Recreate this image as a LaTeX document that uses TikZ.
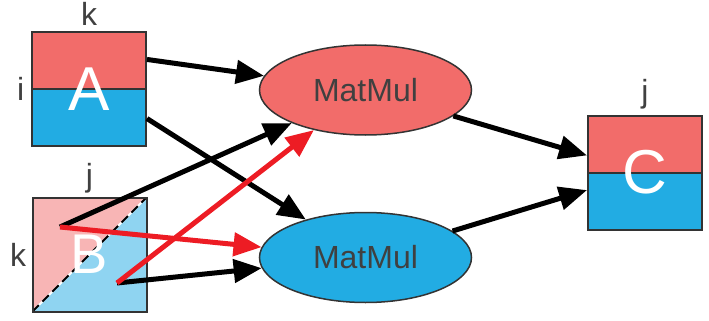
\documentclass[tikz,border=0pt]{standalone}
\usepackage{fontspec}
\setmainfont{Liberation Sans}
\usepackage{xcolor}
\usepackage{tikz}
\usetikzlibrary{arrows.meta,shapes.geometric}
\usetikzlibrary{calc}
\usetikzlibrary{positioning}

\definecolor{matred}{HTML}{F26C6A}
\definecolor{matblue}{HTML}{22ACE3}
\definecolor{palered}{HTML}{F8B5B5}
\definecolor{paleblue}{HTML}{8FD4F1}
\definecolor{arrowred}{HTML}{ED1C24}
\definecolor{edgegray}{HTML}{333333}
\definecolor{textgray}{HTML}{404040}

\begin{document}
\begin{tikzpicture}[x=1pt,y=-1pt,>={Triangle[length=28pt,width=23pt]},semithick]
	\tikzstyle{every node}=[inner sep=0pt]
	\tikzstyle{matbox}=[rectangle, draw=edgegray, line width=2pt, minimum width=114pt, minimum height=114pt, text=white, font=\fontsize{62}{70}\selectfont]
	\tikzstyle{halfsplit}=[path picture={
			\fill[matred] (path picture bounding box.north west) rectangle (path picture bounding box.east);
			\fill[matblue] (path picture bounding box.west) rectangle (path picture bounding box.south east);
			\draw[edgegray, line width=2pt] (path picture bounding box.west) -- (path picture bounding box.east);}]
	\tikzstyle{diagsplit}=[path picture={
			\fill[palered] (path picture bounding box.north west) -- (path picture bounding box.north east) -- (path picture bounding box.south west) -- cycle;
			\fill[paleblue] (path picture bounding box.north east) -- (path picture bounding box.south east) -- (path picture bounding box.south west) -- cycle;
			\draw[white, line width=2pt] (path picture bounding box.south west) -- (path picture bounding box.north east);
			\draw[black, line width=2pt, dash pattern=on 9pt off 5pt] (path picture bounding box.south west) -- (path picture bounding box.north east);}]
	\tikzstyle{opnode}=[ellipse, draw=edgegray, line width=1.5pt, minimum width=212pt, minimum height=90pt, text=textgray, font=\fontsize{32}{38}\selectfont]
	\tikzstyle{dimlabel}=[text=textgray, font=\fontsize{32}{38}\selectfont]
	\tikzstyle{flow}=[->, line width=5pt, black]
	\tikzstyle{redflow}=[->, line width=5pt, arrowred]

	\useasboundingbox (0,0) rectangle (709,321);

	% operands and result
	\node[matbox, halfsplit] (A) at (89,89) {A};
	\node[matbox, diagsplit, font=\fontsize{56}{64}\selectfont] (B) at (89.5,254.5) {B};
	\node[matbox, halfsplit] (C) at (645,172.5) {C};

	% index labels
	\node[dimlabel] (Ak) [above=5pt of A] {k};
	\node[dimlabel] (Ai) [left=6.5pt of A] {i};
	\node[dimlabel] (Bj) [above=3pt of B] {j};
	\node[dimlabel] (Bk) [left=5pt of B] {k};
	\node[dimlabel] (Cj) [above=5pt of C] {j};

	% the two products
	\node[opnode, fill=matred] (M1) at (365.5,90) {MatMul};
	\node[opnode, fill=matblue] (M2) at (365.5,257.5) {MatMul};

	\coordinate (B1) at (60,227);
	\coordinate (B2) at (117,283);

	\path[flow]
		(A.27) edge (M1)
		(A.-27) edge (M2)
		(B1) edge (M1)
		(B2) edge (M2)
		(M1) edge (C)
		(M2) edge (C);
	\path[redflow]
		(B1) edge (M2)
		(B2) edge (M1);
\end{tikzpicture}
\end{document}
